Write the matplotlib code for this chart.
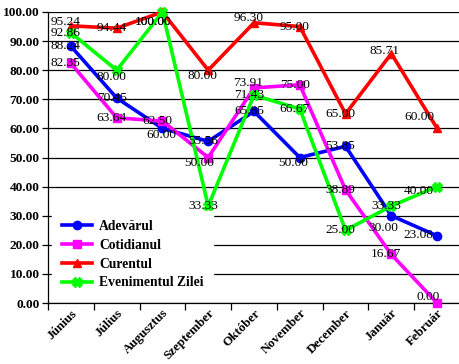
import matplotlib
matplotlib.use('Agg')
import matplotlib.pyplot as plt
from matplotlib.transforms import offset_copy
import numpy as np

months = ['Június', 'Július', 'Augusztus', 'Szeptember', 'Október',
          'November', 'December', 'Január', 'Február']
adevarul = [88.24, 70.45, 60.00, 55.56, 65.85, 50.00, 53.85, 30.00, 23.08]
cotidianul = [82.35, 63.64, 62.50, 50.00, 73.91, 75.00, 38.89, 16.67, 0.00]
curentul = [95.24, 94.44, 100.00, 80.00, 96.30, 95.00, 65.00, 85.71, 60.00]
evenimentul = [92.86, 80.00, 100.00, 33.33, 71.43, 66.67, 25.00, 33.33, 40.00]
y_ticks = [0, 10, 20, 30, 40, 50, 60, 70, 80, 90, 100]

series = [
    ('Adevărul', adevarul, '#0000ff', 'o'),
    ('Cotidianul', cotidianul, '#ff00ff', 's'),
    ('Curentul', curentul, '#ff0000', '^'),
    ('Evenimentul Zilei', evenimentul, '#00ff00', 'X'),
]

# label nudges in pixels (dx, dy down), default (-5, 0)
nudge = {
    ('Adevărul', 2): (-1, 7), ('Adevărul', 5): (-7, 6),
    ('Adevărul', 7): (-8, 12), ('Adevărul', 8): (-19, -1),
    ('Cotidianul', 3): (-9, 6), ('Cotidianul', 4): (-6, -5),
    ('Cotidianul', 8): (-9, -6),
    ('Curentul', 0): (-5, -4), ('Curentul', 2): (-9, 10),
    ('Curentul', 3): (-6, 6), ('Curentul', 4): (-5, -5),
    ('Curentul', 7): (-7, -3), ('Curentul', 8): (-18, -11),
    ('Evenimentul Zilei', 1): (-5, 7), ('Evenimentul Zilei', 2): (-9, 10),
    ('Evenimentul Zilei', 8): (-18, 4),
}

plt.rcParams['font.family'] = ['Liberation Serif', 'DejaVu Serif']

fig = plt.figure(figsize=(4.6, 3.64), dpi=100)
ax = fig.add_axes([48 / 460, 61 / 364, 412 / 460, 291 / 364])

x = np.arange(len(months))
for name, vals, col, mk in series:
    ms = 6 if mk != 'X' else 7
    ax.plot(x, vals, color=col, lw=2.6, marker=mk, ms=ms, mec=col, mfc=col,
            label=name, zorder=3, clip_on=False)

for name, vals, col, mk in series:
    for i, v in enumerate(vals):
        dx, dy = nudge.get((name, i), (-5, 0))
        tr = offset_copy(ax.transData, fig=fig, x=dx * 0.72, y=-dy * 0.72, units='points')
        ax.text(x[i], v, '%.2f' % v, transform=tr, ha='center', va='center',
                fontsize=9.6, color='black', zorder=5)

ax.set_xlim(-0.5, len(months) - 0.5)
ax.set_ylim(0, 100)
ax.set_yticks(y_ticks)
ax.set_yticklabels(['%.2f' % t for t in y_ticks], fontsize=9.6, fontweight='bold')
ax.yaxis.grid(True, color='black', lw=0.9)
ax.set_axisbelow(True)

ax.set_xticks(x)
ax.set_xticklabels(months, rotation=45, ha='right', rotation_mode='anchor',
                   fontsize=9.4, fontweight='bold')
ax.set_xticks(np.arange(-0.5, len(months)), minor=True)
ax.tick_params(axis='x', which='major', length=0, pad=3)
ax.tick_params(axis='x', which='minor', length=5, width=0.9, direction='out')
ax.tick_params(axis='y', length=4, width=0.9, direction='out', pad=2)

for s in ['top', 'right']:
    ax.spines[s].set_visible(False)
for s in ['left', 'bottom']:
    ax.spines[s].set_linewidth(0.9)

leg = ax.legend(loc='lower left', bbox_to_anchor=(0.0, 0.0), frameon=True,
                prop={'size': 9.8, 'weight': 'bold'}, handlelength=2.2,
                borderpad=0.7, labelspacing=0.42, handletextpad=0.55,
                borderaxespad=0.3)
leg.get_frame().set_edgecolor('white')
leg.get_frame().set_facecolor('white')
leg.get_frame().set_alpha(1)
leg.set_zorder(4)

fig.savefig('out.png', dpi=100)
